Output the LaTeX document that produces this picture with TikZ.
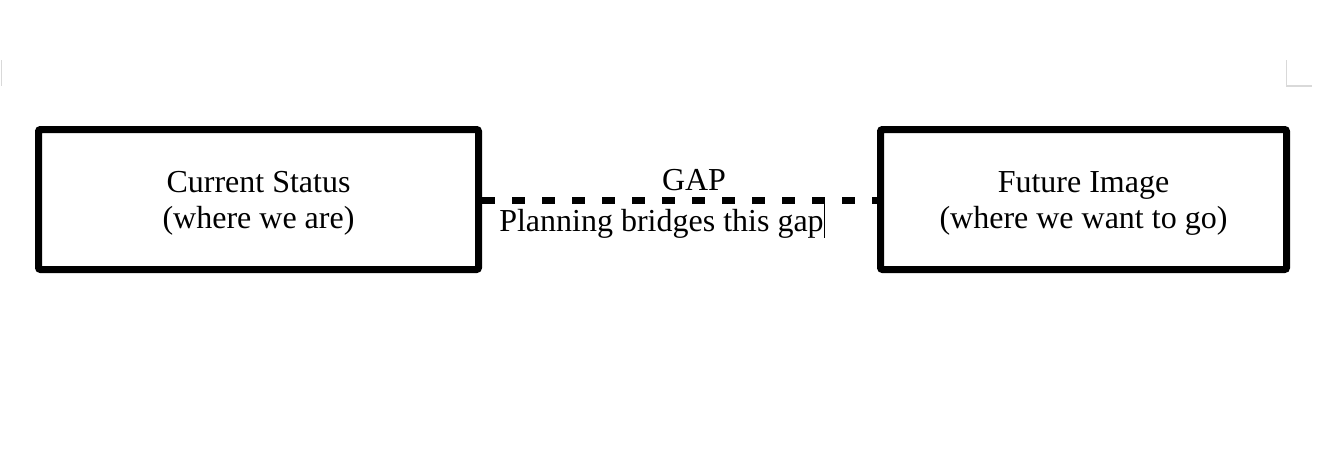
\documentclass[tikz,border=0pt]{standalone}
\usepackage{fontspec}
\setmainfont{Liberation Serif}
\usetikzlibrary{positioning}

\begin{document}
\begin{tikzpicture}[x=0.75pt, y=-0.75pt,
    box/.style={draw, line width=5.25pt, rounded corners=1.5pt, minimum height=105pt, inner sep=0pt},
    txt/.style={font=\fontsize{24}{27}\selectfont, align=center, inner sep=0pt}]
                        \useasboundingbox (0, 0) rectangle (1326, 465);
                        % page corner marks
                        \draw[black!15, line width=1pt] (1.5, 60) -- (1.5, 86);
                        \draw[black!15, line width=1pt] (1286.5, 60) -- (1286.5, 86) -- (1312, 86);

                        \node[box, minimum width=330pt] (cur) at (258.5, 199.5) {};
                        \node[txt] (curtxt) at ([yshift=-3pt]cur.center) {Current Status\\(where we are)};
                        \node[box, minimum width=304.5pt] (fut) at (1083.5, 199.5) {};
                        \node[txt] (futtxt) at ([yshift=-3pt]fut.center) {Future Image\\(where we want to go)};

                        \draw[line width=5.25pt, dash pattern=on 10pt off 12.5pt] ([yshift=-1pt]cur.east) -- ([yshift=-1pt]fut.west);

                        \node[txt, anchor=base] (gap) at (694, 190) {GAP};
                        \node[txt, anchor=base west] (plan) at (499, 231) {Planning bridges this gap};
                        % cursor
                        \draw[line width=0.75pt] (plan.base east) ++(1, -28) -- ++(0, 35);
                    \end{tikzpicture}
\end{document}
